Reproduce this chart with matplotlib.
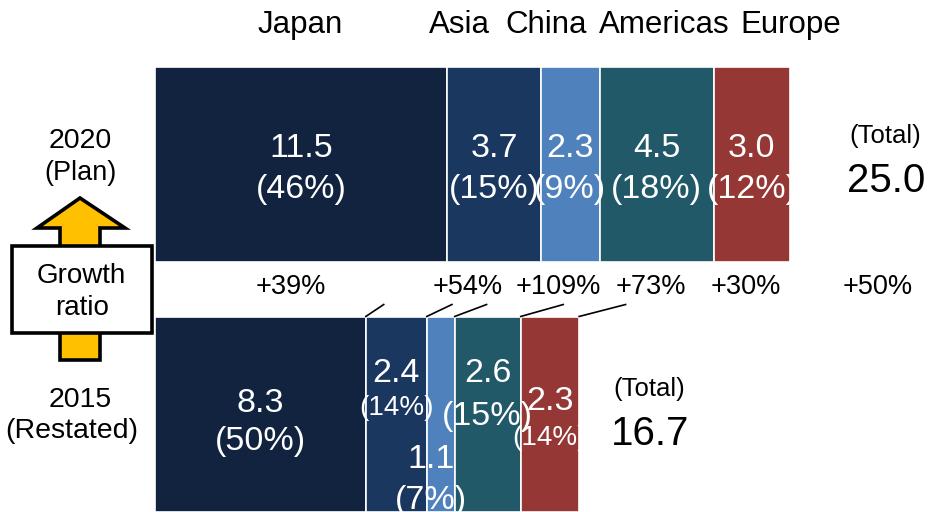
import matplotlib
matplotlib.use("Agg")
import matplotlib.pyplot as plt
from matplotlib.patches import Polygon, Rectangle
from matplotlib.transforms import blended_transform_factory
import numpy as np

plt.rcParams['font.family'] = ['Liberation Sans', 'DejaVu Sans']

# data
regions = ['Japan', 'Asia', 'China', 'Americas', 'Europe']
plan_2020 = [11.5, 3.7, 2.3, 4.5, 3.0]
plan_pct = ['46%', '15%', '9%', '18%', '12%']
restated_2015 = [8.3, 2.4, 1.1, 2.6, 2.3]
restated_pct = ['50%', '14%', '7%', '15%', '14%']
growth = ['+39%', '+54%', '+109%', '+73%', '+30%']
total_growth = '+50%'
total_2020 = 25.0
total_2015 = 16.7

colors = ['#11233f', '#1a375f', '#4f81bd', '#215968', '#953735']

# layout (pixel positions of the reference picture)
header_x = [300, 459, 546, 664, 791]
growth_x = [291, 468, 558, 651, 746]
top_val_y, top_pct_y = 157, 198
bot_val_y = [412, 382, 468, 382, 410]
bot_pct_y = [450, 415, 509, 425, 445]
bot_pct_size = [24.5, 20, 24.5, 24.5, 20]
bot_dx = [0, 0, -0.4, 0, 0]

fig = plt.figure(figsize=(9.35, 5.12), dpi=100)
ax = fig.add_axes([155 / 935, 0, 635 / 935, 445.3 / 512])
ax.set_xlim(0, 25)
ax.set_ylim(-0.391, 1.391)
ax.axis('off')

ov = fig.add_axes([0, 0, 1, 1])
ov.set_xlim(0, 935)
ov.set_ylim(512, 0)
ov.axis('off')
ov.patch.set_visible(False)

bar_h = 0.7825
rows = [(1, plan_2020), (0, restated_2015)]
for y, vals in rows:
    lefts = np.concatenate([[0], np.cumsum(vals)[:-1]])
    ax.barh(y, vals, left=lefts, height=bar_h, color=colors,
            edgecolor='white', linewidth=1.2)

trans = blended_transform_factory(ax.transData, ov.transData)

def clip_row(total, y):
    r = Rectangle((-1, y - 0.7), total + 1, 1.4, transform=ax.transData)
    return r

# labels inside top bar
lefts = np.concatenate([[0], np.cumsum(plan_2020)[:-1]])
clip = clip_row(total_2020, 1)
for i, v in enumerate(plan_2020):
    cx = lefts[i] + v / 2
    for s, yy in [(f'{v:.1f}', top_val_y), (f'({plan_pct[i]})', top_pct_y)]:
        t = ax.text(cx, yy, s, transform=trans, ha='center', va='baseline',
                    color='white', fontsize=24.5)
        t.set_clip_path(clip)

# labels inside bottom bar
lefts = np.concatenate([[0], np.cumsum(restated_2015)[:-1]])
clip = clip_row(total_2015, 0)
for i, v in enumerate(restated_2015):
    cx = lefts[i] + v / 2 + bot_dx[i]
    t = ax.text(cx, bot_val_y[i], f'{v:.1f}', transform=trans, ha='center',
                va='baseline', color='white', fontsize=24.5)
    t.set_clip_path(clip)
    t = ax.text(cx, bot_pct_y[i], f'({restated_pct[i]})', transform=trans,
                ha='center', va='baseline', color='white',
                fontsize=bot_pct_size[i])
    t.set_clip_path(clip)

# short connector lines between the two bars
top_cum = np.cumsum(plan_2020)
bot_cum = np.cumsum(restated_2015)
y0 = -0.391 + bar_h
y1 = 1 - bar_h / 2
for b, tp in zip(bot_cum, top_cum):
    f = 0.22
    ax.plot([b, b + f * (tp - b)], [y0, y0 + f * (y1 - y0)],
            color='black', lw=1.2, clip_on=False)

# headers
for name, x in zip(regions, header_x):
    ov.text(x, 33, name, ha='center', va='baseline', fontsize=22.5)

# growth ratios
for g, x in zip(growth, growth_x):
    ov.text(x, 294, g, ha='center', va='baseline', fontsize=19.5)
ov.text(878, 294, total_growth, ha='center', va='baseline', fontsize=19.5)

# totals
ov.text(885, 143, '(Total)', ha='center', va='baseline', fontsize=18.5)
ov.text(886, 192, f'{total_2020:.1f}', ha='center', va='baseline', fontsize=29)
ov.text(649, 396, '(Total)', ha='center', va='baseline', fontsize=18.5)
ov.text(650, 445, f'{total_2015:.1f}', ha='center', va='baseline', fontsize=29)

# year labels
ov.text(80, 148, '2020', ha='center', va='baseline', fontsize=20.5)
ov.text(80, 180, '(Plan)', ha='center', va='baseline', fontsize=19.5)
ov.text(80, 407, '2015', ha='center', va='baseline', fontsize=20.5)
ov.text(72, 438, '(Restated)', ha='center', va='baseline', fontsize=20.5)

# growth arrow with box
arrow = Polygon([(60, 360), (100, 360), (100, 228), (125, 228), (80, 198),
                 (37, 228), (60, 228)], closed=True, facecolor='#ffc000',
                edgecolor='black', lw=2.6, joinstyle='miter')
ov.add_patch(arrow)
ov.add_patch(Rectangle((12, 246), 140, 87, facecolor='white',
                       edgecolor='black', lw=2.6, zorder=3))
ov.text(81, 283, 'Growth', ha='center', va='baseline', fontsize=20, zorder=4)
ov.text(82, 315, 'ratio', ha='center', va='baseline', fontsize=20, zorder=4)

fig.savefig('out.png', dpi=100)
